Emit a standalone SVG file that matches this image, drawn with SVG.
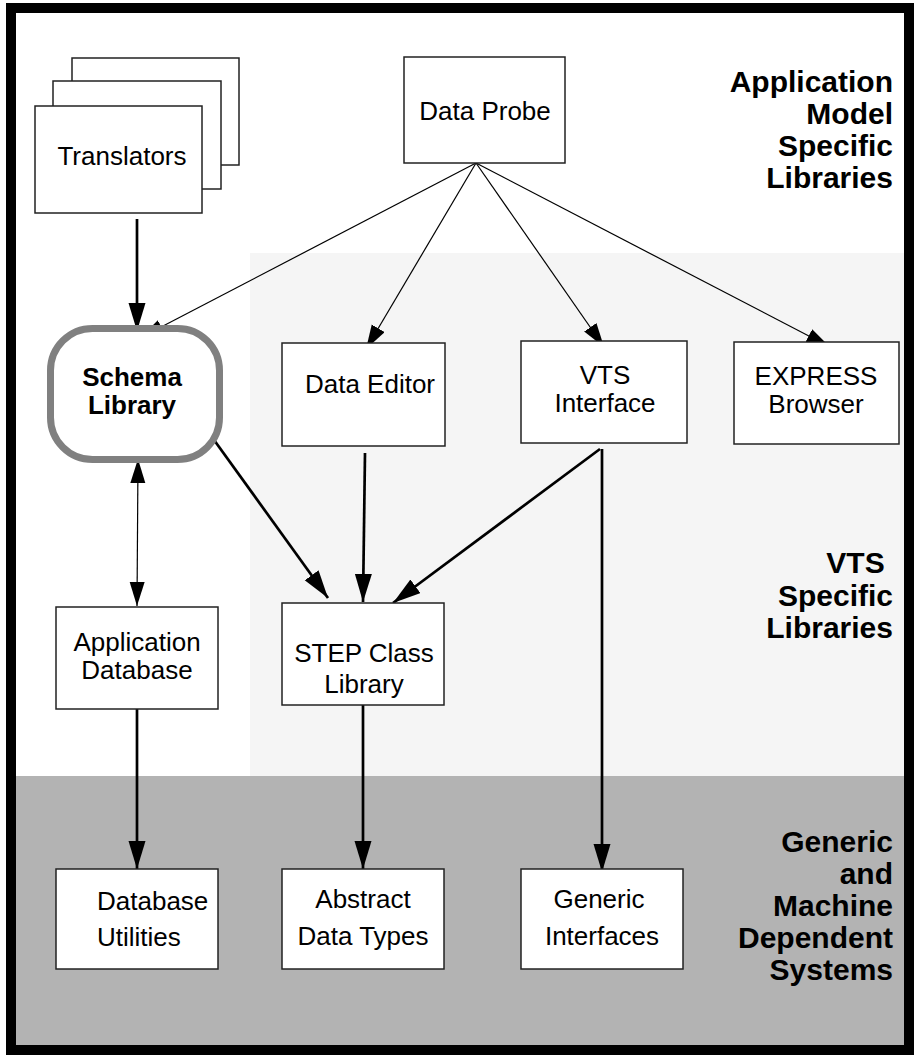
<svg xmlns="http://www.w3.org/2000/svg" width="914" height="1055" viewBox="0 0 914 1055">
<defs>
<style>
.box{fill:#fff;stroke:#222;stroke-width:1.5}
.t{font-family:"Liberation Sans",Arial,Helvetica,sans-serif;font-size:26px;fill:#000;text-anchor:middle}
.tl{font-family:"Liberation Sans",Arial,Helvetica,sans-serif;font-size:26px;fill:#000;text-anchor:start}
.sb{font-family:"Liberation Sans",Arial,Helvetica,sans-serif;font-size:26px;font-weight:bold;fill:#000;text-anchor:middle}
.lab{font-family:"Liberation Sans",Arial,Helvetica,sans-serif;font-size:30px;font-weight:bold;fill:#000;text-anchor:end}
.thick{stroke:#000;stroke-width:2.7;fill:none}
.thin{stroke:#000;stroke-width:1.2;fill:none}
</style>
<marker id="ah" markerUnits="userSpaceOnUse" markerWidth="30" markerHeight="18" refX="28" refY="8.5" orient="auto">
<path d="M0,0 L28,8.5 L0,17 Z" fill="#000"/>
</marker>
<marker id="ahs" markerUnits="userSpaceOnUse" markerWidth="26" markerHeight="16" refX="24" refY="7.5" orient="auto-start-reverse">
<path d="M0,0 L24,7.5 L0,15 Z" fill="#000"/>
</marker>
</defs>

<g id="background">
<rect x="0" y="0" width="914" height="1055" fill="#fff"/>
<rect x="250" y="253" width="656" height="523" fill="#f5f5f5"/>
<rect x="16" y="776" width="890" height="272" fill="#b3b3b3"/>
<rect x="11" y="8" width="898" height="1042" fill="none" stroke="#000" stroke-width="10"/>
</g>

<g id="labels">
<text class="lab" x="893" y="92">Application</text>
<text class="lab" x="893" y="124">Model</text>
<text class="lab" x="893" y="156">Specific</text>
<text class="lab" x="893" y="188">Libraries</text>
<text class="lab" x="893" y="573" xml:space="preserve">VTS </text>
<text class="lab" x="893" y="606">Specific</text>
<text class="lab" x="893" y="638">Libraries</text>
<text class="lab" x="893" y="852">Generic</text>
<text class="lab" x="893" y="884">and</text>
<text class="lab" x="893" y="916">Machine</text>
<text class="lab" x="893" y="948">Dependent</text>
<text class="lab" x="893" y="980">Systems</text>
</g>

<g id="connectors">
<line class="thick" x1="137" y1="219" x2="137" y2="331" marker-end="url(#ah)"/>
<line class="thin" x1="476" y1="163" x2="140" y2="338" marker-end="url(#ahs)"/>
<line class="thin" x1="476" y1="163" x2="366" y2="349" marker-end="url(#ahs)"/>
<line class="thin" x1="476" y1="163" x2="604" y2="347" marker-end="url(#ahs)"/>
<line class="thin" x1="476" y1="163" x2="830" y2="347" marker-end="url(#ahs)"/>
<line class="thin" x1="138" y1="459" x2="137" y2="606" marker-start="url(#ahs)" marker-end="url(#ahs)"/>
<line class="thick" x1="209" y1="433" x2="328" y2="598" marker-end="url(#ah)"/>
<line class="thick" x1="365" y1="453" x2="363" y2="602" marker-end="url(#ah)"/>
<line class="thick" x1="600" y1="449" x2="393" y2="603" marker-end="url(#ah)"/>
<line class="thick" x1="602" y1="449" x2="602" y2="872" marker-end="url(#ah)"/>
<line class="thick" x1="137" y1="709" x2="137" y2="869" marker-end="url(#ah)"/>
<line class="thick" x1="363" y1="705" x2="363" y2="869" marker-end="url(#ah)"/>
</g>

<g id="translators">
<rect class="box" x="72" y="58" width="167" height="107"/>
<rect class="box" x="53" y="81" width="168" height="108"/>
<rect class="box" x="35" y="106" width="167" height="107"/>
<text class="t" x="122" y="165">Translators</text>
</g>

<g id="data-probe">
<rect class="box" x="404" y="57" width="161" height="106"/>
<text class="t" x="485" y="120">Data Probe</text>
</g>

<g id="schema-library">
<rect x="50.5" y="328.5" width="169" height="131" rx="42" ry="42" fill="#fff" stroke="#808080" stroke-width="7"/>
<text class="sb" x="132" y="386">Schema</text>
<text class="sb" x="132" y="414">Library</text>
</g>

<g id="data-editor">
<rect class="box" x="282" y="343" width="163" height="103"/>
<text class="t" x="370" y="393">Data Editor</text>
</g>

<g id="vts-interface">
<rect class="box" x="521" y="341" width="166" height="102"/>
<text class="t" x="605" y="384">VTS</text>
<text class="t" x="605" y="412">Interface</text>
</g>

<g id="express-browser">
<rect class="box" x="734" y="342" width="165" height="102"/>
<text class="t" x="816" y="385">EXPRESS</text>
<text class="t" x="816" y="413">Browser</text>
</g>

<g id="application-database">
<rect class="box" x="56" y="607" width="162" height="102"/>
<text class="t" x="137" y="651">Application</text>
<text class="t" x="137" y="679">Database</text>
</g>

<g id="step-class-library">
<rect class="box" x="282" y="603" width="162" height="102"/>
<text class="t" x="364" y="662">STEP Class</text>
<text class="t" x="364" y="693">Library</text>
</g>

<g id="database-utilities">
<rect class="box" x="56" y="869" width="162" height="100"/>
<text class="tl" x="97" y="910">Database</text>
<text class="tl" x="97" y="946">Utilities</text>
</g>

<g id="abstract-data-types">
<rect class="box" x="282" y="869" width="162" height="100"/>
<text class="t" x="363" y="908">Abstract</text>
<text class="t" x="363" y="945">Data Types</text>
</g>

<g id="generic-interfaces">
<rect class="box" x="521" y="869" width="162" height="100"/>
<text class="t" x="599" y="908">Generic</text>
<text class="t" x="602" y="945">Interfaces</text>
</g>
</svg>
